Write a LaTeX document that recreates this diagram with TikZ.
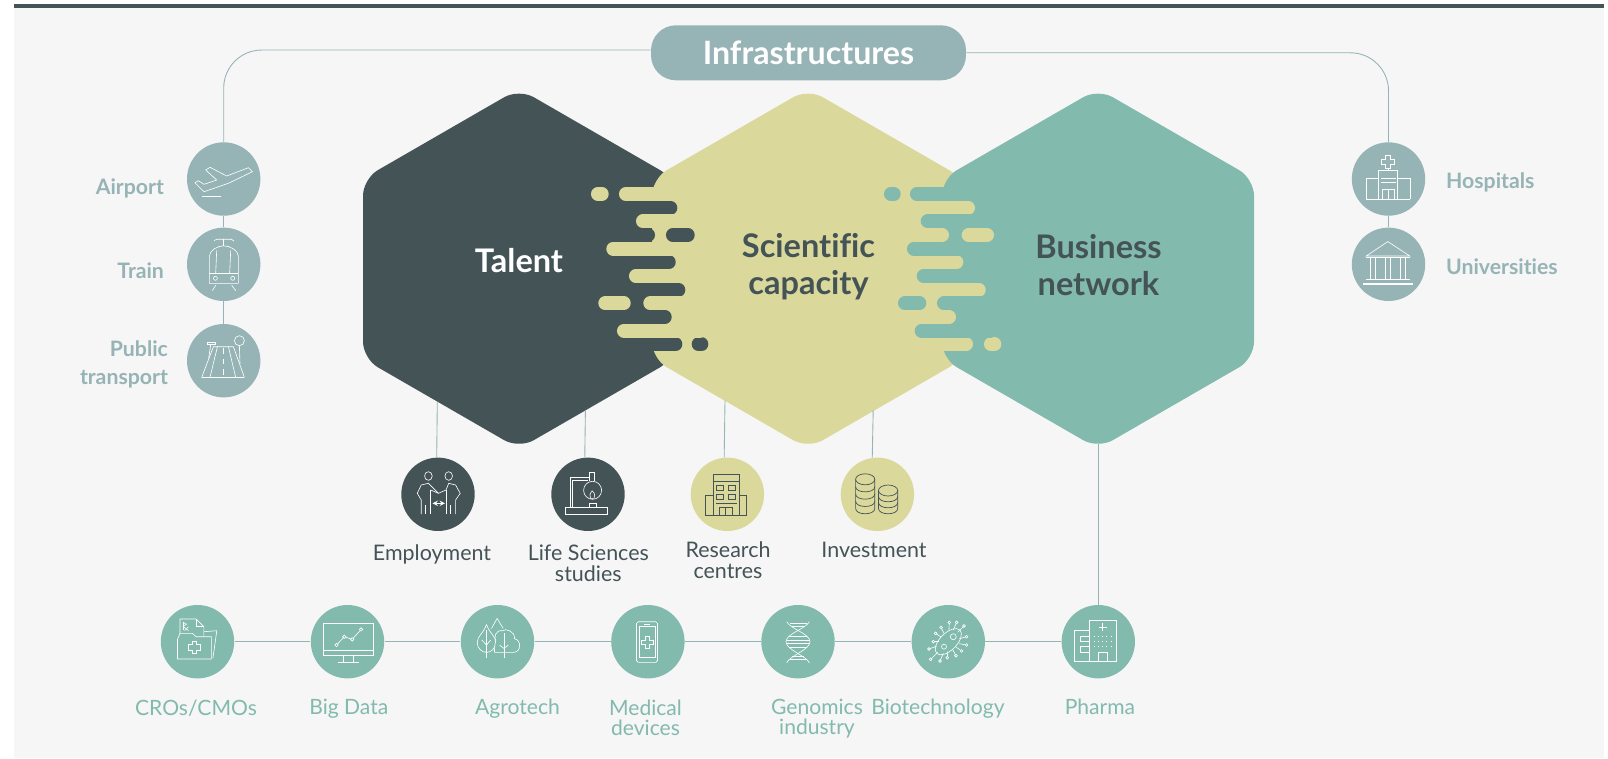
\documentclass[tikz,border=0pt]{standalone}
\usepackage{fontspec}
\setmainfont{Lato}[Ligatures=NoCommon]
\usepackage{tikz}
\usetikzlibrary{arrows,positioning,calc}
\definecolor{talentdark}{HTML}{445356}
\definecolor{sciyellow}{HTML}{DBD89B}
\definecolor{bizteal}{HTML}{82BAAD}
\definecolor{infragrey}{HTML}{96B3B5}
\definecolor{paper}{HTML}{F6F6F6}
\tikzset{
	disc/.style={circle,minimum size=1.468cm,inner sep=0pt},
	link/.style={draw=infragrey,line width=0.5pt},
	icon/.style={draw=white,line width=0.35pt},
	icondark/.style={draw=talentdark,line width=0.4pt},
	strip/.style={line width=0.2733cm,line cap=round},
	sidelabel/.style={text=infragrey,font=\fontsize{12.1}{15.5}\selectfont\bfseries,inner sep=0pt},
	midlabel/.style={text=talentdark,align=center,font=\fontsize{12.2}{11.9}\selectfont,inner sep=0pt},
	lowlabel/.style={text=bizteal,align=center,font=\fontsize{12}{11.7}\selectfont,inner sep=0pt},
	hexlabel/.style={align=center,font=\fontsize{18.5}{21}\selectfont\bfseries,inner sep=0pt}
}
\begin{document}
\begin{tikzpicture}[x=0.02cm,y=-0.02cm]
		\useasboundingbox (0,0) rectangle (1608,758);
		\fill[white] (0,0) rectangle (1608,758);
		\fill[paper] (13.5,4) rectangle (1603.5,758);
		\fill[talentdark] (13.5,4) rectangle (1603.5,8);
		\node[fill=infragrey,rounded corners=0.5cm,minimum width=6.3cm,minimum height=1.1cm,text=white,font=\fontsize{18.3}{20}\selectfont\bfseries] (infra) at (808.5,52.8) {Infrastructures};
		\node[disc,fill=infragrey] (airport) at (223.7,179) {};
		\node[disc,fill=infragrey] (train) at (223.7,264.3) {};
		\node[disc,fill=infragrey] (public) at (223.7,360.7) {};
		\node[disc,fill=infragrey] (hospitals) at (1388.5,179) {};
		\node[disc,fill=infragrey] (universities) at (1388.5,264.3) {};
		\node[disc,fill=talentdark] (employment) at (438,494.3) {};
		\node[disc,fill=talentdark] (studies) at (588,494.3) {};
		\node[disc,fill=sciyellow] (research) at (727.4,494.3) {};
		\node[disc,fill=sciyellow] (investment) at (877.4,494.3) {};
		\node[disc,fill=bizteal] (cros) at (197.5,641.7) {};
		\node[disc,fill=bizteal] (bigdata) at (347.5,641.7) {};
		\node[disc,fill=bizteal] (agrotech) at (497.5,641.7) {};
		\node[disc,fill=bizteal] (medical) at (647.9,641.7) {};
		\node[disc,fill=bizteal] (genomics) at (798,641.7) {};
		\node[disc,fill=bizteal] (biotech) at (948.3,641.7) {};
		\node[disc,fill=bizteal] (pharma) at (1098.3,641.7) {};
		\draw[link,rounded corners=0.76cm] (infra.179.6) -| (airport);
		\draw[link,rounded corners=0.76cm] (infra.0.4) -| (hospitals);
		\draw[link] (airport) -- (train);
		\draw[link] (train) -- (public);
		\draw[link] (hospitals) -- (universities);
		\draw[link] (cros) -- (bigdata);
		\draw[link] (bigdata) -- (agrotech);
		\draw[link] (agrotech) -- (medical);
		\draw[link] (medical) -- (genomics);
		\draw[link] (genomics) -- (biotech);
		\draw[link] (biotech) -- (pharma);
		\fill[talentdark,rounded corners=0.34cm] (363,268.7) -- (363,178.7) -- (519,88.7) -- (675,178.7) -- (675,358.7) -- (519,448.7) -- (363,358.7) -- cycle;
		\fill[sciyellow,rounded corners=0.34cm] (652,268.7) -- (652,178.7) -- (808,88.7) -- (964,178.7) -- (964,358.7) -- (808,448.7) -- (652,358.7) -- cycle;
		\draw[strip,talentdark] (600,207.7) -- (670.5,207.7);
		\draw[strip,talentdark] (600,235) -- (648.2,235);
		\draw[strip,talentdark] (672.8,235) -- (687.9,235);
		\draw[strip,talentdark] (600,262.3) -- (668.9,262.3);
		\draw[strip,talentdark] (600,289.7) -- (678.5,289.7);
		\draw[strip,talentdark] (600,317) -- (664.9,317);
		\draw[strip,talentdark] (600,344.3) -- (675.5,344.3);
		\draw[strip,talentdark] (698.5,344.3) -- (701.5,344.3);
		\draw[strip,sciyellow] (625.8,194) -- (700,194);
		\draw[strip,sciyellow] (597.8,194) -- (601.9,194);
		\draw[strip,sciyellow] (642.8,221.3) -- (700,221.3);
		\draw[strip,sciyellow] (613.1,248.7) -- (700,248.7);
		\draw[strip,sciyellow] (635.8,276) -- (700,276);
		\draw[strip,sciyellow] (650.1,303.3) -- (700,303.3);
		\draw[strip,sciyellow] (605.1,303.3) -- (623.9,303.3);
		\draw[strip,sciyellow] (623.8,330.7) -- (700,330.7);
		\fill[bizteal,rounded corners=0.34cm] (942,268.7) -- (942,178.7) -- (1098,88.7) -- (1254,178.7) -- (1254,358.7) -- (1098,448.7) -- (942,358.7) -- cycle;
		\draw[strip,sciyellow] (880,207.7) -- (968.2,207.7);
		\draw[strip,sciyellow] (880,235) -- (942.2,235);
		\draw[strip,sciyellow] (968.5,235) -- (987.2,235);
		\draw[strip,sciyellow] (880,262.3) -- (956.5,262.3);
		\draw[strip,sciyellow] (880,289.7) -- (978.9,289.7);
		\draw[strip,sciyellow] (880,317) -- (949.2,317);
		\draw[strip,sciyellow] (880,344.3) -- (966.2,344.3);
		\draw[strip,sciyellow] (990.8,344.3) -- (994.5,344.3);
		\draw[strip,bizteal] (916.8,194) -- (990,194);
		\draw[strip,bizteal] (890.8,194) -- (893.9,194);
		\draw[strip,bizteal] (927.5,221.3) -- (990,221.3);
		\draw[strip,bizteal] (913.8,248.7) -- (990,248.7);
		\draw[strip,bizteal] (923.5,276) -- (990,276);
		\draw[strip,bizteal] (943.8,303.3) -- (990,303.3);
		\draw[strip,bizteal] (904.8,303.3) -- (919.5,303.3);
		\draw[strip,bizteal] (921.5,330.7) -- (990,330.7);
		\coordinate (talentleft) at (437.3,401.7);
		\coordinate (talentright) at (585.4,410);
		\coordinate (sciencelft) at (725,400.5);
		\coordinate (scienceright) at (873.2,410);
		\coordinate (bizbottom) at (1098.3,444);
		\draw[link] (talentleft) -- (employment.92);
		\draw[link] (talentright) -- (studies.95);
		\draw[link] (sciencelft) -- (research.95);
		\draw[link] (scienceright) -- (investment.98);
		\draw[link] (bizbottom) -- (pharma);
		\node[hexlabel,text=white] (talentlabel) at (519,260.5) {Talent};
		\node[hexlabel,text=talentdark] (sciencelabel) at (808.5,267) {Scientific\\capacity};
		\node[hexlabel,text=talentdark] (bizlabel) at (1098.5,265.5) {Business\\network};
		\node[sidelabel,anchor=east] (airportlabel) at (164.3,188.7) {Airport};
		\node[sidelabel,anchor=east] (trainlabel) at (164.3,270.7) {Train};
		\node[sidelabel,anchor=east,align=right] (publiclabel) at (168.3,364.3) {Public\\transport};
		\node[sidelabel,anchor=west] (hospitalslabel) at (1445.7,182.7) {Hospitals};
		\node[sidelabel,anchor=west] (universitieslabel) at (1445.7,266.5) {Universities};
		\node[midlabel] (employmentlabel) at (432,554) {Employment};
		\node[midlabel] (studieslabel) at (588.3,563) {Life Sciences\\studies};
		\node[midlabel] (researchlabel) at (728,559.8) {Research\\centres};
		\node[midlabel] (investmentlabel) at (874,550.2) {Investment};
		\node[lowlabel] (croslabel) at (196,708) {CROs/CMOs};
		\node[lowlabel] (bigdatalabel) at (348.8,709) {Big Data};
		\node[lowlabel] (agrotechlabel) at (517.5,709) {Agrotech};
		\node[lowlabel] (medicallabel) at (645.5,717.8) {Medical\\devices};
		\node[lowlabel] (genomicslabel) at (817,718.8) {Genomics\\industry};
		\node[lowlabel] (biotechlabel) at (938,709) {Biotechnology};
		\node[lowlabel] (pharmalabel) at (1100,707) {Pharma};
		\begin{scope}[shift={(airport.center)}]
			\draw[icon] (-28.7,3.7) -- (-25.3,1.7) -- (-19.7,5.3) -- (-7,1) -- (-18,-9) -- (-13.7,-11.7) -- (3,-3) -- (24.7,-11.3) -- (28.7,-7.3) -- (4.7,4.3) -- (-19.7,12.7) -- cycle;
			\draw[icon] (-21.3,17) -- (-2.7,17);
		\end{scope}
		\begin{scope}[shift={(train.center)}]
			\draw[icon] (-9.7,-23.7) -- (-7,-25) -- (8,-25) -- (10.3,-23);
			\draw[icon] (0,-25) -- (0,-18.5);
			\draw[icon] (-14.3,19) -- (-14.3,-8) .. controls (-14.3,-14) and (-6,-18.5) .. (0,-18.5) .. controls (6,-18.5) and (14.7,-14) .. (14.7,-8) -- (14.7,19) -- cycle;
			\draw[icon] (-7,-14) -- (-8,9);
			\draw[icon] (7,-14) -- (6,9);
			\draw[icon] (-14.3,9) -- (14.7,9);
			\draw[icon] (-8.3,14) circle (2);
			\draw[icon] (9,14) circle (2);
			\draw[icon] (-8,21) -- (-11.3,26.3);
			\draw[icon] (8,21) -- (12,26.3);
		\end{scope}
		\begin{scope}[shift={(public.center)}]
			\draw[icon] (15.7,-20) circle (5);
			\draw[icon] (15.7,-15) -- (16.3,3);
			\draw[icon] (-22,16.7) -- (20.7,16.7);
			\draw[icon] (-22,16.7) -- (-10.3,-14) -- (9.7,-14) -- (20.7,16.7);
			\draw[icon] (-13.7,16.7) -- (-6.3,-14);
			\draw[icon] (12,16.7) -- (4.7,-14);
			\draw[icon,dashed] (-0.7,-12.3) -- (-0.7,15);
			\draw[icon] (-16.3,-18.3) rectangle (-8.7,-16.3);
			\draw[icon] (-13,-16.3) -- (-15,-2.3);
		\end{scope}
		\begin{scope}[shift={(hospitals.center)}]
			\draw[icon] (-3.4,-24) -- (2,-24) -- (2,-20) -- (5.6,-20) -- (5.6,-14.6) -- (2,-14.6) -- (2,-10.6) -- (-3.4,-10.6) -- (-3.4,-14.6) -- (-7,-14.6) -- (-7,-20) -- (-3.4,-20) -- cycle;
			\draw[icon] (-0.7,-10.6) -- (-0.7,-9);
			\draw[icon] (-10.7,-9) rectangle (8.7,20);
			\draw[icon] (-8,-0.7) -- (7,-0.7);
			\draw[icon] (-8,3.7) -- (7,3.7);
			\draw[icon] (-6.3,10) rectangle (5.3,20);
			\draw[icon] (-0.7,10) -- (-0.7,20);
			\draw[icon] (-22.7,20) -- (-22.7,-0.7) -- (-10.7,-0.7);
			\draw[icon] (8.7,-0.7) -- (21.3,-0.7) -- (21.3,20);
			\draw[icon] (-22.7,20) -- (21.3,20);
		\end{scope}
		\begin{scope}[shift={(universities.center)}]
			\draw[icon] (-22.3,-8.3) -- (-0.7,-22.7) -- (21.3,-8.3) -- cycle;
			\draw[icon] (-22.3,-6.7) -- (21.3,-6.7);
			\draw[icon] (-18.7,-6.7) -- (-18.7,15);
			\draw[icon] (-13,-6.7) -- (-13,15);
			\draw[icon] (-3.7,-6.7) -- (-3.7,15);
			\draw[icon] (2,-6.7) -- (2,15);
			\draw[icon] (11.3,-6.7) -- (11.3,15);
			\draw[icon] (17,-6.7) -- (17,15);
			\draw[icon] (-22.3,15) -- (21.3,15);
			\draw[icon,line width=0.6pt] (-25.3,19.7) -- (24.7,19.7);
		\end{scope}
		\begin{scope}[shift={(employment.center)}]
			\draw[icon] (-9.6,-18.3) ellipse (3.8 and 4.3);
			\draw[icon] (10.7,-18.3) ellipse (3.8 and 4.3);
			\draw[icon] (-16.8,19.7) -- (-16.8,5.7) -- (-20.7,-1) -- (-16.8,-9.3) -- (-9.6,-11) -- (0.4,-1) -- (8,-4.3) -- (10.7,-11) -- (17.6,-9.3) -- (22.2,-1) -- (17.6,5.7) -- (17.6,19.7);
			\draw[icon] (-12.2,10.7) -- (-12.2,19.7);
			\draw[icon] (12.6,10.7) -- (12.6,19.7);
			\draw[icon] (-7.3,-4.3) -- (-7.3,19.7);
			\draw[icon] (8,-4.3) -- (8,19.7);
			\draw[icon] (-7.3,-4.3) -- (0.4,-1);
			\draw[icon,<->,>=stealth] (-5.4,9) -- (6.9,9);
		\end{scope}
		\begin{scope}[shift={(studies.center)}]
			\draw[icon] (-22.6,13) rectangle (19.5,19.7);
			\draw[icon] (-17.6,13) -- (-17.6,-17) -- (1.5,-17);
			\draw[icon] (-15.3,13) -- (-15.3,-13.7) -- (0,-13.7);
			\draw[icon] (1,-21.7) -- (6,-21.7) -- (6,-13);
			\draw[icon] (1,-21.7) -- (1,-13);
			\draw[icon] (4.6,-4) circle (9);
			\draw[icon] (4.2,-3.5) .. controls (7,-1) and (7.5,2) .. (6,4) -- (2.5,4) .. controls (1,2) and (2,-1) .. (4.2,-3.5);
			\draw[icon] (1.5,9) rectangle (8,13);
		\end{scope}
		\begin{scope}[shift={(research.center)}]
			\draw[icondark] (-14.5,-19.7) rectangle (11.5,21.3);
			\draw[icondark] (-14.5,-12.7) -- (11.5,-12.7);
			\draw[icondark] (-14.5,0.7) -- (-21.8,0.7) -- (-21.8,21.3) -- (19.1,21.3) -- (19.1,0.7) -- (11.5,0.7);
			\draw[icondark] (-10.7,-8.7) rectangle (-3.8,-3.7);
			\draw[icondark] (0.8,-8.7) rectangle (7.7,-3.7);
			\draw[icondark] (-10.7,0) rectangle (-3.8,5);
			\draw[icondark] (0.8,0) rectangle (7.7,5);
			\draw[icondark] (-11.5,9) -- (9.6,9);
			\draw[icondark] (-7.7,13) rectangle (4.6,21.3);
			\draw[icondark] (-1.9,13) -- (-1.9,21.3);
		\end{scope}
		\begin{scope}[shift={(investment.center)}]
			\draw[icondark] (-12.2,-15) ellipse (9.6 and 5.5);
			\draw[icondark] (10.7,-3.8) ellipse (9.6 and 5.5);
			\foreach \y in {-7.7,-0.4,6.9,14.2}
				\draw[icondark] (-21.8,\y-7.3) -- (-21.8,\y) .. controls (-21.8,\y+7) and (-2.6,\y+7) .. (-2.6,\y) -- (-2.6,\y-7.3);
			\foreach \y in {2.2,8.2,14.2}
				\draw[icondark] (1.1,\y-6) -- (1.1,\y) .. controls (1.1,\y+7) and (20.3,\y+7) .. (20.3,\y) -- (20.3,\y-6);
		\end{scope}
		\begin{scope}[shift={(cros.center)}]
			\draw[icon] (-20,17.3) -- (13.9,17.3) -- (13.9,-5) -- (-1.4,-5) -- (-5,-8.3) -- (-17.5,-8.3) -- (-20,-2.3) -- cycle;
			\draw[icon] (-17.5,-8.3) -- (-17.5,-22.7) -- (-1.4,-22.7) -- (6.4,-15) -- (6.4,-5);
			\draw[icon] (-1.4,-22.7) -- (-1.4,-15) -- (6.4,-15);
			\draw[icon] (6.4,-10) -- (19.3,-11) -- (15.4,16.7);
			\draw[icon] (-14.5,-19.5) -- (-14.5,-12);
			\draw[icon] (-14.5,-19.5) -- (-11,-17.5) -- (-14.5,-15.5) -- (-9,-11);
			\draw[icon] (-9,-15) -- (-13,-11);
			\draw[icon] (-5,-0.7) -- (-1.4,-0.7) -- (-1.4,3) -- (2.8,3) -- (2.8,8.4) -- (-1.4,8.4) -- (-1.4,12) -- (-5,12) -- (-5,8.4) -- (-9.2,8.4) -- (-9.2,3) -- (-5,3) -- cycle;
		\end{scope}
		\begin{scope}[shift={(bigdata.center)}]
			\draw[icon] (-24.3,-18.3) rectangle (25.4,14);
			\draw[icon] (-24.3,8.3) -- (25.4,8.3);
			\draw[icon] (-4.3,14) -- (-4.3,20.3);
			\draw[icon] (5.4,14) -- (5.4,20.3);
			\draw[icon] (-9.6,20.3) -- (11,20.3);
			\draw[icon] (-11,3.3) -- (-3.2,-5) -- (4.7,-2.3) -- (13.6,-12.3);
			\draw[icon,fill=bizteal] (-11,3.3) circle (1.7);
			\draw[icon,fill=bizteal] (-3.2,-5) circle (1.7);
			\draw[icon,fill=bizteal] (4.7,-2.3) circle (1.7);
			\draw[icon,fill=bizteal] (13.6,-12.3) circle (1.7);
		\end{scope}
		\begin{scope}[shift={(agrotech.center)}]
			\draw[icon] (-0.4,-23.3) -- (-6,-13.3);
			\draw[icon] (-0.4,-23.3) -- (5.7,-13.3);
			\draw[icon,fill=bizteal] (-11,-17.3) .. controls (-14,-8) and (-20.3,-6) .. (-20.3,1) .. controls (-20.3,7) and (-15,10.7) .. (-11,10.7) .. controls (-7,10.7) and (-1.7,7) .. (-1.7,1) .. controls (-1.7,-6) and (-8,-8) .. (-11,-17.3);
			\draw[icon] (-11,-11.7) -- (-11,16.7);
			\draw[icon] (-15.6,-1.7) -- (-11,3.3) -- (-6.8,-1.7);
			\draw[icon,fill=bizteal] (-3,10.7) -- (16,10.7) .. controls (24,10.7) and (24,-2) .. (17,-3) .. controls (18,-10) and (8,-14) .. (5,-11) .. controls (-2,-12) and (-4,-4) .. (-1.7,-1) .. controls (-3,3) and (-3,8) .. (-3,10.7);
			\draw[icon] (6.4,-8.3) -- (6.4,16.7);
			\draw[icon] (2,3.3) -- (6.4,6.7) -- (11,3.3);
		\end{scope}
		\begin{scope}[shift={(medical.center)}]
			\draw[icon,rounded corners=1pt] (-11.4,-20) rectangle (9.6,20.7);
			\draw[icon] (-8.9,-15.7) rectangle (7.1,16);
			\draw[icon] (-3,-1) -- (-3,-5.7) -- (1,-5.7) -- (1,-1) -- (5.4,-1) -- (5.4,2.6) -- (1,2.6) -- (1,6.4) -- (-3,6.4) -- (-3,2.6) -- (-7,2.6) -- (-7,-1) -- cycle;
			\draw[icon] (-3.6,-17.7) -- (1.8,-17.7);
		\end{scope}
		\begin{scope}[shift={(genomics.center)}]
			\draw[icon] (-11.3,-20) .. controls (-8,-13) and (12,-8) .. (12,0) .. controls (12,8) and (-8,14) .. (-11.3,21);
			\draw[icon] (11.3,-20) .. controls (8,-13) and (-12,-8) .. (-12,0) .. controls (-12,8) and (8,14) .. (11.3,21);
			\draw[icon] (-8.5,-18) -- (8.5,-18);
			\draw[icon] (-6,-15) -- (6,-15);
			\draw[icon] (-9,-5) -- (9,-5);
			\draw[icon] (-11.5,-1.5) -- (11.5,-1.5);
			\draw[icon] (-11.5,2) -- (11.5,2);
			\draw[icon] (-9,5.5) -- (9,5.5);
			\draw[icon] (-6,15) -- (6,15);
			\draw[icon] (-8.5,18) -- (8.5,18);
		\end{scope}
		\begin{scope}[shift={(biotech.center)}]
			\draw[icon,rotate=45] (0,0) ellipse (16.5 and 8.5);
			\draw[icon] (5,-5) circle (3);
			\draw[icon] (-4.3,5) circle (2.5);
			\foreach \tx/\ty in {1/-19.3,8.3/-19.3,15.7/-15.7,18.3/-5,18.3/3.3,13.3/9.3,7.7/14,-1/16,-8.3/19.3,-17.7/17.7,-19.3/7.3,-15/0,-12.7/-8.3,-7.3/-14.3}
			{
				\draw[icon] (0.6*\tx,0.6*\ty) -- (\tx,\ty);
				\draw[icon,fill=bizteal] (\tx,\ty) circle (1.4);
			}
		\end{scope}
		\begin{scope}[shift={(pharma.center)}]
			\draw[icon] (-9,-21.7) rectangle (18.3,19.3);
			\draw[icon] (-9,-11) -- (-24,-11) -- (-24,19.3) -- (-9,19.3);
			\draw[icon] (-18.3,-5.7) rectangle (-9,0);
			\draw[icon] (-18.3,5) rectangle (-9,10.7);
			\draw[icon] (0.3,-14.3) -- (8.3,-14.3);
			\draw[icon] (4.3,-18.3) -- (4.3,-10.3);
			\draw[icon,dotted] (-4.3,-5.7) -- (12.3,-5.7);
			\draw[icon,dotted] (-4.3,-0.7) -- (12.3,-0.7);
			\draw[icon,dotted] (-4.3,4.3) -- (12.3,4.3);
			\draw[icon] (0,19.3) -- (0,10.7) -- (9.3,10.7) -- (9.3,19.3);
		\end{scope}
		\end{tikzpicture}
\end{document}
